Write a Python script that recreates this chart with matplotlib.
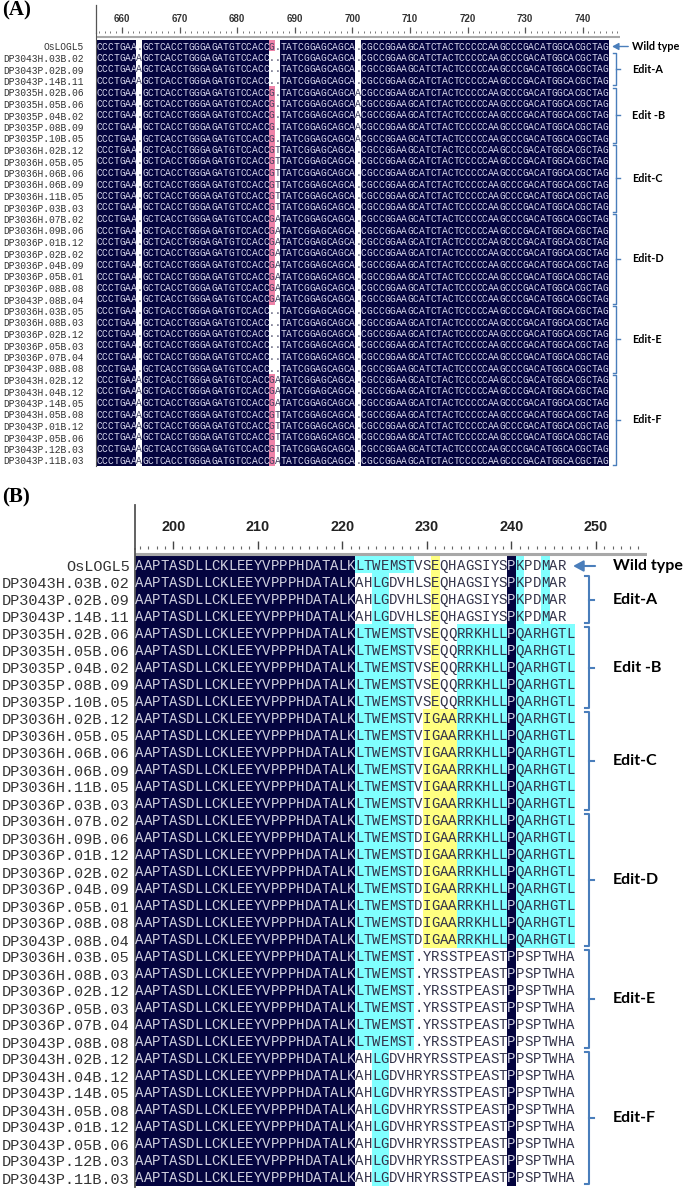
import matplotlib
matplotlib.use("Agg")
import matplotlib.pyplot as plt
from matplotlib.colors import to_rgb

# ---------------- panel A: nucleotide alignment (positions 656-744) ----------------
dna_first_pos = 656
dna_wild = "CCCTGAA.GCTCACCTGGGAGATGTCCACCG.TATCGGAGCAGCA.CGCCGGAAGCATCTACTCCCCCAAGCCCGACATGGCACGCTAG"
dna_edit_a = "CCCTGAAAGCTCACCTGGGAGATGTCCACC..TATCGGAGCAGCA.CGCCGGAAGCATCTACTCCCCCAAGCCCGACATGGCACGCTAG"
dna_edit_b = "CCCTGAA.GCTCACCTGGGAGATGTCCACCG.TATCGGAGCAGCAACGCCGGAAGCATCTACTCCCCCAAGCCCGACATGGCACGCTAG"
dna_edit_c = "CCCTGAA.GCTCACCTGGGAGATGTCCACCGTTATCGGAGCAGCA.CGCCGGAAGCATCTACTCCCCCAAGCCCGACATGGCACGCTAG"
dna_edit_d = "CCCTGAA.GCTCACCTGGGAGATGTCCACCGATATCGGAGCAGCA.CGCCGGAAGCATCTACTCCCCCAAGCCCGACATGGCACGCTAG"
dna_edit_e = "CCCTGAA.GCTCACCTGGGAGATGTCCACC..TATCGGAGCAGCA.CGCCGGAAGCATCTACTCCCCCAAGCCCGACATGGCACGCTAG"
dna_edit_f1 = "CCCTGAAAGCTCACCTGGGAGATGTCCACCGATATCGGAGCAGCA.CGCCGGAAGCATCTACTCCCCCAAGCCCGACATGGCACGCTAG"
dna_edit_f2 = "CCCTGAAAGCTCACCTGGGAGATGTCCACCGTTATCGGAGCAGCA.CGCCGGAAGCATCTACTCCCCCAAGCCCGACATGGCACGCTAG"

# ---------------- panel B: protein alignment (positions 196-247) ----------------
prot_first_pos = 196
prot_head = "AAPTASDLLCKLEEYVPPPHDATALK"
prot_wild = prot_head + "LTWEMSTVSEQHAGSIYSPKPDMAR"
prot_edit_a = prot_head + "AHLGDVHLSEQHAGSIYSPKPDMAR"
prot_edit_b = prot_head + "LTWEMSTVSEQQRRKHLLPQARHGTL"
prot_edit_c = prot_head + "LTWEMSTVIGAARRKHLLPQARHGTL"
prot_edit_d = prot_head + "LTWEMSTDIGAARRKHLLPQARHGTL"
prot_edit_e = prot_head + "LTWEMST.YRSSTPEASTPPSPTWHA"
prot_edit_f = prot_head + "AHLGDVHRYRSSTPEASTPPSPTWHA"

# shading class of every residue: d = identical, c = similar, y = group, - = none
shade_head = "d" * 26
shade_wild = shade_head + "ccccccc--y--------dc--c--"
shade_edit_a = shade_head + "--cc-----y--------dc--c--"
shade_edit_b = shade_head + "ccccccc--y--ccccccdccccccc"
shade_edit_c = shade_head + "ccccccc-yyyyccccccdccccccc"
shade_edit_d = shade_edit_c
shade_edit_e = shade_head + "ccccccc-----------d-------"
shade_edit_f = shade_head + "--cc--------------d-------"

sample_names = [
    "OsLOGL5",
    "DP3043H.03B.02", "DP3043P.02B.09", "DP3043P.14B.11",
    "DP3035H.02B.06", "DP3035H.05B.06", "DP3035P.04B.02", "DP3035P.08B.09", "DP3035P.10B.05",
    "DP3036H.02B.12", "DP3036H.05B.05", "DP3036H.06B.06", "DP3036H.06B.09", "DP3036H.11B.05",
    "DP3036P.03B.03",
    "DP3036H.07B.02", "DP3036H.09B.06", "DP3036P.01B.12", "DP3036P.02B.02", "DP3036P.04B.09",
    "DP3036P.05B.01", "DP3036P.08B.08", "DP3043P.08B.04",
    "DP3036H.03B.05", "DP3036H.08B.03", "DP3036P.02B.12", "DP3036P.05B.03", "DP3036P.07B.04",
    "DP3043P.08B.08",
    "DP3043H.02B.12", "DP3043H.04B.12", "DP3043P.14B.05", "DP3043H.05B.08", "DP3043P.01B.12",
    "DP3043P.05B.06", "DP3043P.12B.03", "DP3043P.11B.03",
]
group_labels = ["Edit-A", "Edit -B", "Edit-C", "Edit-D", "Edit-E", "Edit-F"]
group_sizes = [3, 5, 6, 8, 6, 8]

dna_rows = ([dna_wild] + [dna_edit_a] * 3 + [dna_edit_b] * 5 + [dna_edit_c] * 6
            + [dna_edit_d] * 8 + [dna_edit_e] * 6 + [dna_edit_f1] * 3 + [dna_edit_f2] * 4
            + [dna_edit_f1])
prot_rows = ([prot_wild] + [prot_edit_a] * 3 + [prot_edit_b] * 5 + [prot_edit_c] * 6
             + [prot_edit_d] * 8 + [prot_edit_e] * 6 + [prot_edit_f] * 8)
prot_shades = ([shade_wild] + [shade_edit_a] * 3 + [shade_edit_b] * 5 + [shade_edit_c] * 6
               + [shade_edit_d] * 8 + [shade_edit_e] * 6 + [shade_edit_f] * 8)


def dna_shading(rows):
    # gap columns of the wild type stay white, variable columns get pink
    wt = rows[0]
    out = []
    for r in rows:
        s = ""
        for j, ch in enumerate(r):
            column = set(x[j] for x in rows)
            if wt[j] == "." or ch == ".":
                s += "-"
            elif len(column) == 1:
                s += "d"
            else:
                s += "p"
        out.append(s)
    return out


FIG_W, FIG_H = 685, 1197
DARK = "#04043f"
SHADE_COLORS = {"d": DARK, "c": "#80ffff", "y": "#ffff80", "p": "#ee82a8", "-": "#ffffff"}
BLUE = "#4a7ebb"
LABEL_FONT = ["Lato", "DejaVu Sans"]


def px_axes(fig, left, top, width, height):
    return fig.add_axes([left / FIG_W, 1 - (top + height) / FIG_H, width / FIG_W, height / FIG_H])


def draw_alignment(ax, rows, shades, first_pos, xlim, ylim, seq_size, name_size, name_pad,
                   light_text, dark_text):
    nrows = len(rows)
    ncols = max(len(r) for r in rows)
    img = [[to_rgb("#ffffff")] * ncols for _ in range(nrows)]
    for i, sh in enumerate(shades):
        for j, code in enumerate(sh):
            img[i][j] = to_rgb(SHADE_COLORS[code])
    ax.imshow(img, extent=(first_pos - 0.5, first_pos + ncols - 0.5, nrows - 0.5, -0.5),
              aspect="auto", interpolation="nearest")
    for i, r in enumerate(rows):
        for j, ch in enumerate(r):
            col = light_text if shades[i][j] == "d" else dark_text
            ax.text(first_pos + j, i, ch, ha="center", va="center", fontsize=seq_size,
                    family="Liberation Mono", color=col)
    ax.set_xlim(*xlim)
    ax.set_ylim(*ylim)
    ax.set_yticks(range(nrows))
    ax.set_yticklabels(sample_names, family="Liberation Mono", fontsize=name_size, color="#333333")
    ax.tick_params(axis="y", length=0, pad=name_pad)
    for side in ["right", "bottom", "top"]:
        ax.spines[side].set_visible(False)
    ax.spines["left"].set_color("#555555")
    ax.xaxis.tick_top()


def draw_groups(ax, x_hook, x_line, x_tick, x_text, arrow_head, arrow_tail, size, lw, arrow_scale):
    ax.annotate("", xy=(arrow_head, 0), xytext=(arrow_tail, 0), annotation_clip=False,
                arrowprops=dict(arrowstyle="-|>,head_length=0.55,head_width=0.3", color=BLUE,
                                lw=lw, mutation_scale=arrow_scale, shrinkA=0, shrinkB=0))
    ax.text(x_text, 0, "Wild type", va="center", ha="left", fontsize=size, fontweight="bold",
            family=LABEL_FONT, clip_on=False)
    start = 1
    for label, n in zip(group_labels, group_sizes):
        top, bot = start - 0.4, start + n - 1 + 0.35
        mid = (top + bot) / 2
        ax.plot([x_hook, x_line, x_line, x_hook], [top, top, bot, bot], color=BLUE, lw=lw,
                clip_on=False)
        ax.plot([x_line, x_tick], [mid, mid], color=BLUE, lw=lw, clip_on=False)
        ax.text(x_text, mid, label, va="center", ha="left", fontsize=size, fontweight="bold",
                family=LABEL_FONT, clip_on=False)
        start += n


fig = plt.figure(figsize=(FIG_W / 100, FIG_H / 100), dpi=100)

# ---- panel A ----
col_a, row_a, wt_a = 5.76, 11.5, 46.5
ylim_a = (36.5, -1.17)
ax_a = px_axes(fig, 96, wt_a + ylim_a[1] * row_a, 91 * col_a, (ylim_a[0] - ylim_a[1]) * row_a)
draw_alignment(ax_a, dna_rows, dna_shading(dna_rows), dna_first_pos, (655.5, 746.5), ylim_a,
               6.9, 6.9, 8.5, "#d8d8ee", "#404060")
ax_a.set_xticks(range(660, 741, 10))
ax_a.set_xticks(range(656, 747), minor=True)
ax_a.set_xticklabels([str(v) for v in range(660, 741, 10)], family="Liberation Sans",
                     fontweight="bold", fontsize=7, color="#333333")
ax_a.tick_params(axis="x", which="major", length=4, width=0.9, color="#555555", pad=2.5)
ax_a.tick_params(axis="x", which="minor", length=1.6, width=0.7, color="#777777")
ax_a.axhline(-0.85, color="#a8a8a8", lw=1.5)
ax_a.plot([655.5, 655.5], [ylim_a[1], ylim_a[1] - 2.4], color="#555555", lw=0.9, clip_on=False)
draw_groups(ax_a, 745.2, 745.8, 746.5, 748.55, 745.1, 747.9, 7.8, 1.0, 7)

# ---- panel B ----
col_b, row_b, wt_b = 8.45, 17.0, 566
ylim_b = (36.5, -1.0)
ax_b = px_axes(fig, 135.4, wt_b + ylim_b[1] * row_b, 60.5 * col_b, (ylim_b[0] - ylim_b[1]) * row_b)
draw_alignment(ax_b, prot_rows, prot_shades, prot_first_pos, (195.5, 256.0), ylim_b,
               10.1, 11, 3.9, "#d0d0e0", "#33334a")
ax_b.set_xticks(range(200, 251, 10))
ax_b.set_xticks(range(196, 256), minor=True)
ax_b.set_xticklabels([str(v) for v in range(200, 251, 10)], family="Liberation Sans",
                     fontweight="bold", fontsize=10.4, color="#222222")
ax_b.tick_params(axis="x", which="major", length=5.5, width=1.0, color="#444444", pad=5.5)
ax_b.tick_params(axis="x", which="minor", length=2.2, width=0.8, color="#666666")
ax_b.axhline(-0.68, color="#a8a8a8", lw=2.2)
ax_b.spines["left"].set_linewidth(1.3)
ax_b.plot([195.5, 195.5], [ylim_b[1], ylim_b[1] - 2.6], color="#555555", lw=1.3, clip_on=False)
draw_groups(ax_b, 248.65, 249.2, 249.8, 252.0, 247.3, 249.9, 11.5, 1.5, 11)

fig.text(2 / FIG_W, 1 - 10 / FIG_H, "(A)", family="Liberation Serif", fontweight="bold",
         fontsize=15, va="center", ha="left")
fig.text(2 / FIG_W, 1 - 497 / FIG_H, "(B)", family="Liberation Serif", fontweight="bold",
         fontsize=15, va="center", ha="left")

fig.savefig("out.png", dpi=100)
